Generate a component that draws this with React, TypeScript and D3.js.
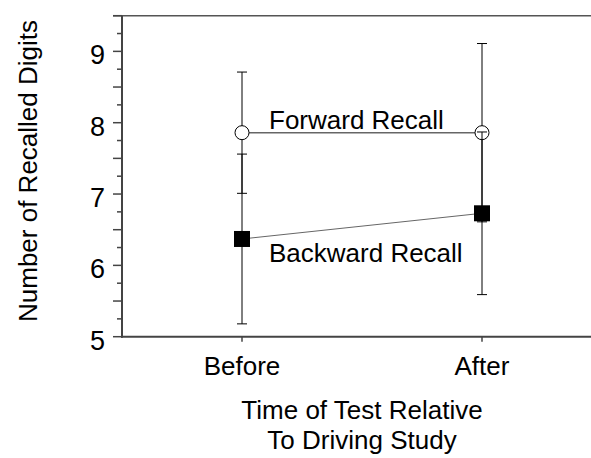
import React from "react";
import * as d3 from "d3";

const categories = ["Before", "After"];
const forwardMeans = [7.86, 7.86];
const forwardErr = [0.85, 1.25];
const backwardMeans = [6.37, 6.73];
const backwardErr = [1.19, 1.14];
const yTickLabels = [5, 6, 7, 8, 9];
const seriesLabels = ["Forward Recall", "Backward Recall"];
const yTitle = "Number of Recalled Digits";
const xTitleLines = ["Time of Test Relative", "To Driving Study"];

const W = 591;
const H = 458;
const FONT = "'Liberation Sans', Arial, Helvetica, sans-serif";

export default function App() {
  const x = d3.scaleLinear().domain([-0.5, 1.5]).range([122, 602]);
  const y = d3.scaleLinear().domain([5, 9.5]).range([336.7, 15.7]);
  const line = d3
    .line<number>()
    .x((_, i) => x(i))
    .y((d) => y(d));

  const minor = d3.range(5, 9.5001, 0.25);

  const errBar = (i: number, m: number, e: number, key: string) => {
    const cx = x(i);
    return (
      <g key={key} stroke="#000" strokeWidth={1}>
        <line x1={cx} x2={cx} y1={y(m - e)} y2={y(m + e)} />
        <line x1={cx - 5} x2={cx + 5} y1={y(m - e)} y2={y(m - e)} />
        <line x1={cx - 5} x2={cx + 5} y1={y(m + e)} y2={y(m + e)} />
      </g>
    );
  };

  return (
    <svg
      width={W}
      height={H}
      style={{ position: "absolute", left: 0, top: 0, background: "#fff" }}
      fontFamily={FONT}
    >
      {/* axes frame */}
      <line x1={113} x2={W} y1={y(9.5)} y2={y(9.5)} stroke="#555" strokeWidth={1.5} />
      <line x1={122} x2={122} y1={y(9.5)} y2={y(5) + 1} stroke="#444" strokeWidth={2} />
      <line x1={121} x2={W} y1={y(5)} y2={y(5)} stroke="#444" strokeWidth={2} />

      {/* y ticks */}
      {minor.map((v) => {
        const major = Math.abs(v * 2 - Math.round(v * 2)) < 1e-6;
        return (
          <line
            key={"t" + v}
            x1={major ? 113 : 117}
            x2={122}
            y1={y(v)}
            y2={y(v)}
            stroke="#444"
            strokeWidth={1.5}
          />
        );
      })}
      {yTickLabels.map((v) => (
        <text key={"l" + v} x={105} y={y(v) + 13} textAnchor="end" fontSize={27} fill="#000">
          {v}
        </text>
      ))}

      {/* x ticks and labels */}
      {categories.map((c, i) => (
        <g key={c}>
          <line x1={x(i)} x2={x(i)} y1={y(5)} y2={y(5) + 5} stroke="#444" strokeWidth={1.5} />
          <text x={x(i)} y={375} textAnchor="middle" fontSize={26} fill="#000">
            {c}
          </text>
        </g>
      ))}

      {/* axis titles */}
      {xTitleLines.map((t, i) => (
        <text key={t} x={362} y={419 + i * 30} textAnchor="middle" fontSize={26} fill="#000">
          {t}
        </text>
      ))}
      <text
        transform={`translate(37,${(20 + 322) / 2}) rotate(-90)`}
        textAnchor="middle"
        fontSize={26}
        fill="#000"
      >
        {yTitle}
      </text>

      {/* connecting lines */}
      <path d={line(forwardMeans) || ""} fill="none" stroke="#666" strokeWidth={1.5} />
      <path d={line(backwardMeans) || ""} fill="none" stroke="#666" strokeWidth={1} />

      {/* forward series */}
      {forwardMeans.map((m, i) => errBar(i, m, forwardErr[i], "fe" + i))}
      {forwardMeans.map((m, i) => (
        <circle key={"fc" + i} cx={x(i)} cy={y(m)} r={7} fill="#fff" stroke="#000" strokeWidth={1} />
      ))}

      {/* backward series */}
      {backwardMeans.map((m, i) => errBar(i, m, backwardErr[i], "be" + i))}
      {backwardMeans.map((m, i) => (
        <rect key={"bs" + i} x={x(i) - 8} y={y(m) - 8} width={16} height={16} fill="#000" />
      ))}

      {/* series labels */}
      <text x={269} y={129} fontSize={26} fill="#000">
        {seriesLabels[0]}
      </text>
      <text x={269} y={262} fontSize={26} fill="#000">
        {seriesLabels[1]}
      </text>
    </svg>
  );
}
